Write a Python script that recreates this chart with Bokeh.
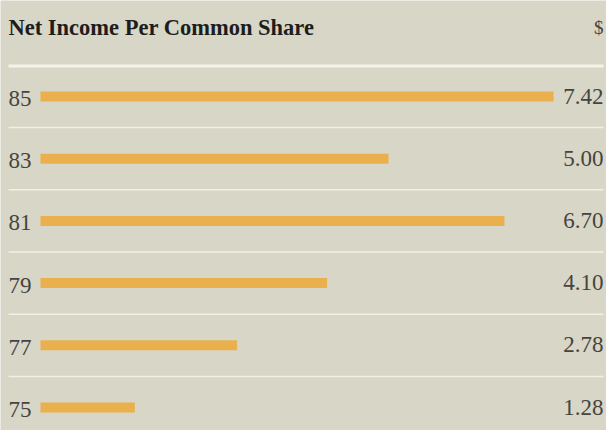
from bokeh.plotting import figure
from bokeh.models import Range1d, ColumnDataSource
from bokeh.core.properties import value
from bokeh.embed import file_html
from bokeh.resources import INLINE

years = ["85", "83", "81", "79", "77", "75"]
eps = [7.42, 5.00, 6.70, 4.10, 2.78, 1.28]
eps_labels = ["7.42", "5.00", "6.70", "4.10", "2.78", "1.28"]
title_text = "Net Income Per Common Share"
unit_text = "$"

W, H = 606, 430
BG = "#d8d6c7"
BAR = "#e9b04d"
FONT = value("Liberation Serif")

# scale: value 0 at px 47, 68.2 px per dollar
X0 = 47
ppu = 68.2
x_start = -X0 / ppu
x_end = (W - X0) / ppu
bar_base = -7 / ppu  # bars begin slightly left of zero, as in the original
# rows: index 0 at px 96, spacing 62.2
ppr = 62.2
y_top = -96 / ppr
y_bot = (H - 96) / ppr

p = figure(width=W, height=H, x_range=Range1d(x_start, x_end),
           y_range=Range1d(y_bot, y_top), output_backend="svg",
           toolbar_location=None, min_border=0, border_fill_color=BG,
           background_fill_color=BG, outline_line_color=None)
p.axis.visible = False
p.grid.visible = False

rows = list(range(len(years)))
src = ColumnDataSource(dict(y=rows, v=eps, yr=years, lab=eps_labels,
                            yy=[r + 2 / ppr for r in rows],
                            yv=[r - 0.5 / ppr for r in rows]))

xl = (8 - X0) / ppu
xr = (603 - X0) / ppu

# separator lines
p.segment(x0=[xl], x1=[xr], y0=[-0.49], y1=[-0.49], line_color="#f4f3ea", line_width=3)
seps = [r + 0.5 for r in rows[:-1]]
p.segment(x0=[xl] * len(seps), x1=[xr] * len(seps), y0=seps, y1=seps,
          line_color="#f1f0e6", line_width=1.5)

p.hbar(y="y", left=bar_base, right="v", height=10 / ppr, source=src, fill_color=BAR,
       line_color=None)

p.text(x=xl, y="yy", text="yr", source=src, text_font=FONT, text_font_size="23px",
       text_color="#45443f", text_align="left", text_baseline="middle")
p.text(x=xr, y="yv", text="lab", source=src, text_font=FONT, text_font_size="23px",
       text_color="#45443f", text_align="right", text_baseline="middle")

p.text(x=[xl], y=[-1.11], text=[title_text], text_font=FONT, text_font_size="22.5px",
       text_font_style="bold", text_color="#1e1d1b", text_align="left",
       text_baseline="middle")
p.text(x=[xr], y=[-1.11], text=[unit_text], text_font=FONT, text_font_size="19px",
       text_color="#45443f", text_align="right", text_baseline="middle")

open("out.html", "w").write(file_html(p, INLINE))
